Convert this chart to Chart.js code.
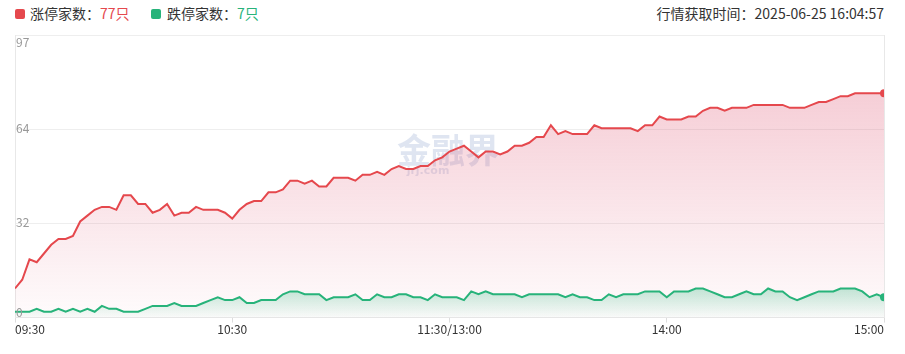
<!DOCTYPE html>
<html>
<head>
<meta charset="utf-8">
<script src="https://cdn.jsdelivr.net/npm/chart.js@4.4.1/dist/chart.umd.min.js"></script>
<style>
    body { margin: 0; width: 905px; height: 354px; background: #fff; position: relative; overflow: hidden;
           font-family: "Microsoft YaHei", "Noto Sans CJK SC", sans-serif; }
    .legend { position: absolute; top: 3px; left: 0; font-size: 14px; color: #333; white-space: nowrap; }
    .legend span.item { position: absolute; top: 0; }
    .legend i { position: absolute; top: 6px; width: 10px; height: 10px; border-radius: 2px; }
    .stamp { position: absolute; top: 3px; right: 21px; font-size: 14px; color: #333; white-space: nowrap; }
    canvas { position: absolute; top: 0; left: 0; }
</style>
</head>
<body>
<div class="legend">
    <i style="left:15px;background:#e5484d"></i>
    <span class="item" style="left:30px">涨停家数：<b style="font-weight:normal;color:#e5484d" id="up-count"></b></span>
    <i style="left:151px;background:#27b37a"></i>
    <span class="item" style="left:167px">跌停家数：<b style="font-weight:normal;color:#27b37a" id="down-count"></b></span>
</div>
<div class="stamp">行情获取时间：2025-06-25 16:04:57</div>
<canvas id="limitChart" width="905" height="354"></canvas>
<script>
// 2분 간격 샘플 (09:30 ~ 11:30 / 13:00 ~ 15:00)
const upCounts = [
    10, 13, 20, 19, 22, 25, 27, 27, 28, 33, 35, 37, 38, 38, 37, 42, 42, 39, 39, 36,
    37, 39, 35, 36, 36, 38, 37, 37, 37, 36, 34, 37, 39, 40, 40, 43, 43, 44, 47, 47,
    46, 47, 45, 45, 48, 48, 48, 47, 49, 49, 50, 49, 51, 52, 51, 51, 52, 52, 54, 55,
    57, 58, 59, 57, 55, 57, 57, 56, 57, 59, 59, 60, 62, 62, 66, 63, 64, 63, 63, 63,
    66, 65, 65, 65, 65, 65, 64, 66, 66, 69, 68, 68, 68, 69, 69, 71, 72, 72, 71, 72,
    72, 72, 73, 73, 73, 73, 73, 72, 72, 72, 73, 74, 74, 75, 76, 76, 77, 77, 77, 77,
    77
];
const downCounts = [
    2, 2, 2, 3, 2, 2, 3, 2, 3, 2, 3, 2, 4, 3, 3, 2, 2, 2, 3, 4,
    4, 4, 5, 4, 4, 4, 5, 6, 7, 6, 6, 7, 5, 5, 6, 6, 6, 8, 9, 9,
    8, 8, 8, 6, 7, 7, 7, 8, 6, 6, 8, 7, 7, 8, 8, 7, 7, 6, 8, 7,
    7, 7, 6, 9, 8, 9, 8, 8, 8, 8, 7, 8, 8, 8, 8, 8, 7, 8, 7, 7,
    6, 6, 8, 7, 8, 8, 8, 9, 9, 9, 7, 9, 9, 9, 10, 10, 9, 8, 7, 7,
    8, 9, 8, 8, 10, 9, 9, 7, 6, 7, 8, 9, 9, 9, 10, 10, 10, 9, 7, 8,
    7
];
const xTickMinutes = [0, 60, 120, 180, 240];
const xTickLabels = ['09:30', '10:30', '11:30/13:00', '14:00', '15:00'];
const yTickValues = [0, 97 / 3, 194 / 3, 97];
const yTickLabels = ['0', '32', '64', '97'];

const RED = '#e5484d';
const GREEN = '#27b37a';

document.getElementById('up-count').innerText = upCounts[upCounts.length - 1] + '只';
document.getElementById('down-count').innerText = downCounts[downCounts.length - 1] + '只';

function toPoints(arr) {
    return arr.map((v, i) => ({ x: i * 2, y: v }));
}

// 선 아래 그라데이션 (선의 최고점 ~ 바닥)
function areaFill(values, rgb, a0, a1) {
    return (ctx) => {
        const chart = ctx.chart;
        const area = chart.chartArea;
        if (!area) return 'transparent';
        const top = chart.scales.y.getPixelForValue(Math.max(...values));
        const g = chart.ctx.createLinearGradient(0, top, 0, area.bottom);
        g.addColorStop(0, `rgba(${rgb},${a0})`);
        g.addColorStop(1, `rgba(${rgb},${a1})`);
        return g;
    };
}

function lastOnly(values, r) {
    return (ctx) => ctx.dataIndex === values.length - 1 ? r : 0;
}

const framePlugin = {
    id: 'frame',
    beforeDatasetsDraw(chart) {
        const { ctx, chartArea } = chart;
        // 워터마크
        ctx.save();
        ctx.fillStyle = 'rgba(185,198,225,0.45)';
        ctx.font = 'bold 34px "Noto Sans CJK SC", sans-serif';
        ctx.textAlign = 'center';
        ctx.textBaseline = 'middle';
        ctx.fillText('金融界', 448, 150);
        ctx.font = 'bold 11px "DejaVu Sans", sans-serif';
        ctx.fillText('jrj.com', 428, 171);
        ctx.restore();
    },
    afterDraw(chart) {
        const { ctx, chartArea, scales } = chart;
        ctx.save();
        // 오른쪽 테두리
        ctx.strokeStyle = '#e8e8e8';
        ctx.lineWidth = 1;
        ctx.beginPath();
        ctx.moveTo(Math.round(chartArea.right) + 0.5, chartArea.top);
        ctx.lineTo(Math.round(chartArea.right) + 0.5, chartArea.bottom);
        ctx.stroke();
        // y축 라벨 (차트 안쪽)
        ctx.fillStyle = '#999';
        ctx.font = '12px "Microsoft YaHei", "Noto Sans CJK SC", sans-serif';
        ctx.textAlign = 'left';
        yTickValues.forEach((v, i) => {
            const y = scales.y.getPixelForValue(v);
            if (i === yTickValues.length - 1) {
                ctx.textBaseline = 'top';
                ctx.fillText(yTickLabels[i], chartArea.left + 1, y + 1);
            } else if (i === 0) {
                ctx.textBaseline = 'bottom';
                ctx.fillText(yTickLabels[i], chartArea.left + 1, y + 1);
            } else {
                ctx.textBaseline = 'middle';
                ctx.fillText(yTickLabels[i], chartArea.left + 1, y - 1);
            }
        });
        ctx.restore();
    }
};

new Chart(document.getElementById('limitChart'), {
    type: 'line',
    data: {
        datasets: [{
            label: '跌停家数',
            data: toPoints(downCounts),
            borderColor: GREEN,
            borderWidth: 2,
            backgroundColor: areaFill(downCounts, '39,179,122', 0.28, 0.02),
            fill: 'origin',
            tension: 0,
            pointRadius: lastOnly(downCounts, 4),
            pointBackgroundColor: GREEN,
            pointBorderWidth: 0
        }, {
            label: '涨停家数',
            data: toPoints(upCounts),
            borderColor: RED,
            borderWidth: 2,
            backgroundColor: areaFill(upCounts, '222,80,110', 0.28, 0.02),
            fill: 'origin',
            tension: 0,
            pointRadius: lastOnly(upCounts, 4),
            pointBackgroundColor: RED,
            pointBorderWidth: 0
        }]
    },
    options: {
        responsive: false,
        animation: false,
        layout: { padding: { left: 15, right: 21, top: 35, bottom: 17 } },
        plugins: {
            legend: { display: false },
            tooltip: { enabled: false }
        },
        scales: {
            x: {
                type: 'linear',
                min: 0,
                max: 240,
                afterBuildTicks: (scale) => { scale.ticks = xTickMinutes.map(v => ({ value: v })); },
                ticks: {
                    align: 'inner',
                    autoSkip: false,
                    maxRotation: 0,
                    padding: 0,
                    color: '#333',
                    font: { size: 12, family: '"Microsoft YaHei", "Noto Sans CJK SC", sans-serif' },
                    callback: (v) => xTickLabels[xTickMinutes.indexOf(v)]
                },
                grid: { drawOnChartArea: false, drawTicks: true, tickLength: 5, color: '#ddd' },
                border: { color: '#e6e6e6' }
            },
            y: {
                min: 0,
                max: 97,
                afterBuildTicks: (scale) => { scale.ticks = yTickValues.map(v => ({ value: v })); },
                ticks: { display: false },
                grid: { color: '#eeeeee', drawTicks: false },
                border: { color: '#e8e8e8' }
            }
        }
    },
    plugins: [framePlugin]
});
</script>
</body>
</html>
